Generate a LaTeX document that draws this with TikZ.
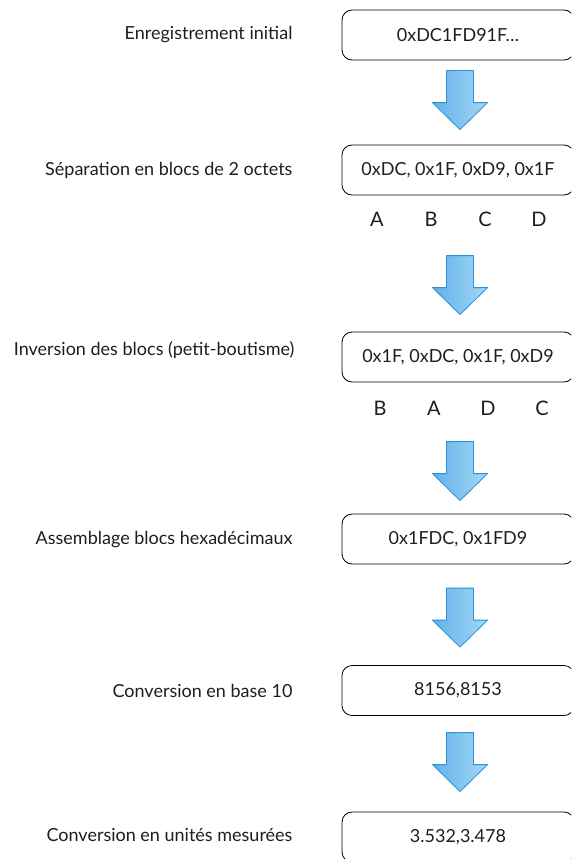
\documentclass[tikz,border=0pt]{standalone}
\usepackage{fontspec}
\setmainfont{Lato}
\usepackage{tikz}
\usetikzlibrary{calc}

\definecolor{flecheBord}{HTML}{2E90D6}
\definecolor{flecheClair}{HTML}{A6D7F6}
\definecolor{flecheFonce}{HTML}{5FB2EA}
\definecolor{texte}{HTML}{1E1E1E}

\tikzset{
  etape/.style={draw=black, line width=0.8pt, rounded corners=10pt,
    minimum width=232pt, minimum height=50pt, text=texte,
    font=\fontsize{18}{22}\selectfont},
  legende/.style={anchor=east, text=texte, font=\fontsize{18}{22}\selectfont},
  bloc/.style={text=texte, font=\fontsize{20}{24}\selectfont},
  fleche/.pic={
    \draw[draw=flecheBord, line width=0.8pt, left color=flecheFonce, right color=flecheClair]
      (-13.5,-59) -- (13.5,-59) -- (13.5,-27) -- (27.5,-27) -- (0,0)
      -- (-27.5,-27) -- (-13.5,-27) -- cycle;
  }
}

\begin{document}
\begin{tikzpicture}[x=1pt, y=-1pt]
  \clip (0,0) rectangle (571,859);

  % Steps (boxes)
  \node[etape] (b1) at (458,35) {0xDC1FD91F…};
  \node[etape] (b2) at (458,170) {0xDC, 0x1F, 0xD9, 0x1F};
  \node[etape] (b3) at (458,357) {0x1F, 0xDC, 0x1F, 0xD9};
  \node[etape] (b4) at (458,539) {0x1FDC, 0x1FD9};
  \node[etape] (b5) at (458,690.5) {8156,8153};
  \node[etape] (b6) at (458,837) {3.532,3.478};

  % Labels on the left
  \node[legende] (l1) at (296,35) {Enregistrement initial};
  \node[legende] (l2) at (296,170) {Séparation en blocs de 2 octets};
  \node[legende] (l3) at (298,350) {Inversion des blocs (petit-boutisme)};
  \node[legende] (l4) at (296,540) {Assemblage blocs hexadécimaux};
  \node[legende] (l5) at (296,691) {Conversion en base 10};
  \node[legende] (l6) at (296,835) {Conversion en unités mesurées};

  % Block names under the boxes
  \foreach \l [count=\i] in {A,B,C,D}
    \node[bloc] (sep\l) at (323+54*\i,219) {\l};
  \foreach \l [count=\i] in {B,A,D,C}
    \node[bloc] (inv\l) at (326+54*\i,408) {\l};

  % Block arrows, tip just above the next box
  \foreach \b/\d in {b2/15, b3/17, b4/13, b5/18, b6/20}
    \pic at ($(\b.north)+(2,-\d)$) {fleche};
\end{tikzpicture}
\end{document}
